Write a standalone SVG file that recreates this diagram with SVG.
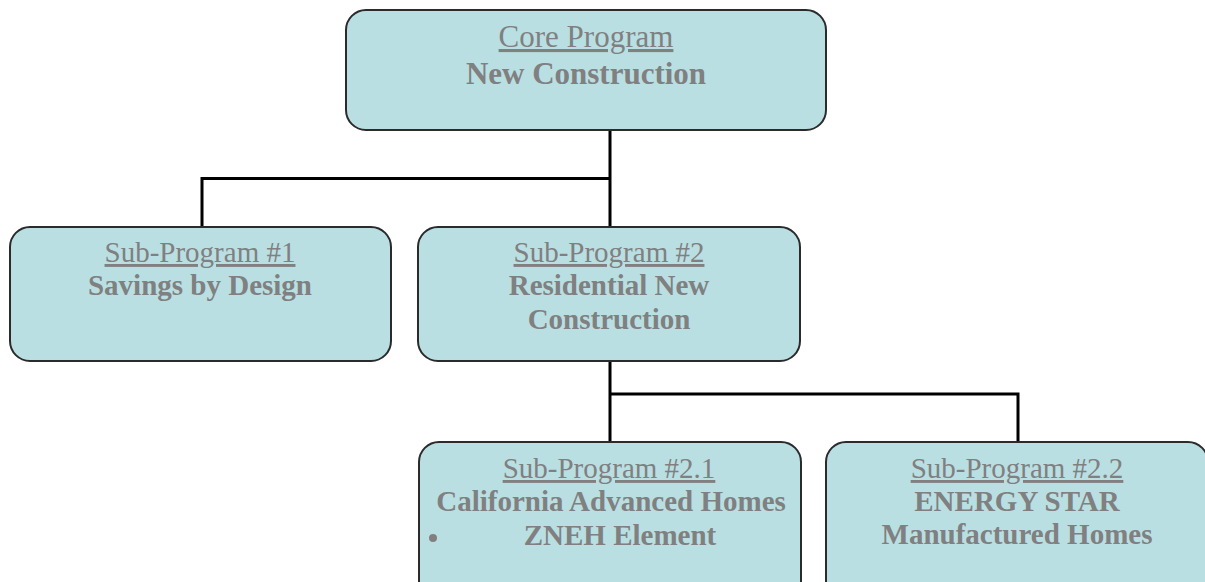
<svg xmlns="http://www.w3.org/2000/svg" width="1205" height="582" viewBox="0 0 1205 582">
  <style>
    .box { fill: #b9dfe3; stroke: #2b2b2b; stroke-width: 2; }
    .t { font-family: "Liberation Serif", "Times New Roman", serif; fill: #808080; text-anchor: middle; }
    .head { font-size: 29px; text-decoration: underline; }
    .name { font-size: 29px; font-weight: bold; }
    .link { fill: none; stroke: #000; stroke-width: 3; }
  </style>

  <!-- connectors -->
  <g id="connectors">
    <path class="link" d="M610 130 V227 M610 178.5 H202 V227"/>
    <path class="link" d="M610 361 V442 M610 394 H1018 V442"/>
  </g>

  <g id="core">
    <rect class="box" x="346" y="10" width="480" height="120" rx="20"/>
    <text class="t head" x="586" y="47" style="font-size:31px">Core Program</text>
    <text class="t name" x="586" y="84" style="font-size:31px">New Construction</text>
  </g>

  <g id="sub1">
    <rect class="box" x="10" y="227" width="381" height="134" rx="20"/>
    <text class="t head" x="200" y="262">Sub-Program #1</text>
    <text class="t name" x="200" y="295">Savings by Design</text>
  </g>

  <g id="sub2">
    <rect class="box" x="418" y="227" width="382" height="134" rx="20"/>
    <text class="t head" x="609" y="262">Sub-Program #2</text>
    <text class="t name" x="609" y="295">Residential New</text>
    <text class="t name" x="609" y="329">Construction</text>
  </g>

  <g id="sub21">
    <rect class="box" x="419" y="442" width="382" height="160" rx="20"/>
    <text class="t head" x="609" y="478">Sub-Program #2.1</text>
    <text class="t name" x="611" y="511">California Advanced Homes</text>
    <circle cx="433" cy="538" r="4" fill="#808080"/>
    <text class="t name" x="620" y="545">ZNEH Element</text>
  </g>

  <g id="sub22">
    <rect class="box" x="826" y="442" width="382" height="160" rx="20"/>
    <text class="t head" x="1017" y="478">Sub-Program #2.2</text>
    <text class="t name" x="1017" y="511">ENERGY STAR</text>
    <text class="t name" x="1017" y="544">Manufactured Homes</text>
  </g>
</svg>
